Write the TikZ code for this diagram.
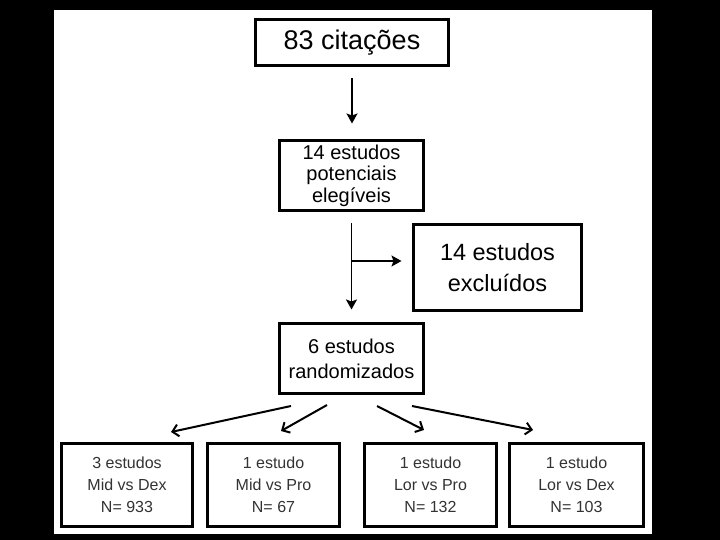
\documentclass[tikz,border=0pt]{standalone}
\usepackage{fontspec}
\setmainfont{Liberation Sans}
\usetikzlibrary{arrows.meta,calc}
\begin{document}
\begin{tikzpicture}[x=1pt,y=-1pt,
  box/.style={draw=black,line width=2.6pt,fill=white,align=center,inner sep=0pt,outer sep=0pt},
  varr/.style={line width=1.8pt,-{Stealth[length=10pt,width=11pt,inset=2pt]}},
  darr/.style={line width=2pt,-{Straight Barb[length=6pt,width=12pt]}},
  txt/.style={text=black!80}]
\useasboundingbox (0,0) rectangle (720,540);
\fill[black] (0,0) rectangle (720,540);
\fill[white] (54,10) rectangle (652,534);

\node[box,minimum width=193pt,minimum height=46pt,font=\fontsize{27}{28}\selectfont] (cit) at (352,42.5) {83 citações};
\node[box,minimum width=144pt,minimum height=70pt,font=\fontsize{20}{21.5}\selectfont] (pot) at (351.5,175.5) {14 estudos\\potenciais\\elegíveis};
\node[box,minimum width=168pt,minimum height=86pt,font=\fontsize{23.5}{31}\selectfont] (exc) at (497.5,267.5) {14 estudos\\excluídos};
\node[box,minimum width=144pt,minimum height=70pt,font=\fontsize{20}{25}\selectfont] (rnd) at (351.5,358.5) {6 estudos\\randomizados};

\node[box,txt,minimum width=131pt,minimum height=83pt,font=\fontsize{16}{22}\selectfont] (b1) at (127,485) {3 estudos\\Mid vs Dex\\N= 933};
\node[box,txt,minimum width=132pt,minimum height=83pt,font=\fontsize{16}{22}\selectfont] (b2) at (273.5,485) {1 estudo\\Mid vs Pro\\N= 67};
\node[box,txt,minimum width=132pt,minimum height=83pt,font=\fontsize{16}{22}\selectfont] (b3) at (430.5,485) {1 estudo\\Lor vs Pro\\N= 132};
\node[box,txt,minimum width=134pt,minimum height=83pt,font=\fontsize{16}{22}\selectfont] (b4) at (576.5,485) {1 estudo\\Lor vs Dex\\N= 103};

\draw[varr,shorten <=13pt,shorten >=17pt] (cit.south) -- (cit.south |- pot.north);
\draw[varr,shorten <=13pt,shorten >=14pt] (pot.south) -- (rnd.north);
\coordinate (br) at (351.5,261);
\draw[varr,shorten >=12pt] (br) -- (br -| exc.west);

\coordinate (s1) at (291,406);
\coordinate (s2) at (327,405);
\coordinate (s3) at (377,406);
\coordinate (s4) at (412,406);
\coordinate (e1) at (171,432);
\coordinate (e2) at (281,431);
\coordinate (e3) at (424,430);
\coordinate (e4) at (533,430);
\draw[darr] (s1) -- (e1);
\draw[darr] (s2) -- (e2);
\draw[darr] (s3) -- (e3);
\draw[darr] (s4) -- (e4);
\end{tikzpicture}
\end{document}
